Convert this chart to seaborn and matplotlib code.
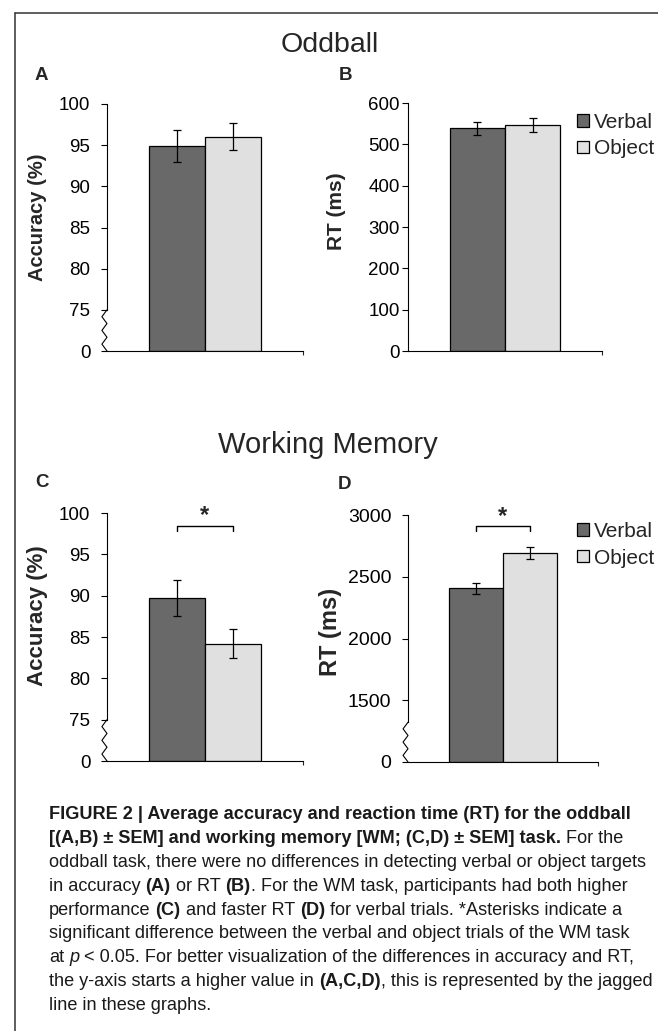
import numpy as np
import pandas as pd
import matplotlib
matplotlib.use("Agg")
import matplotlib.pyplot as plt
from matplotlib import font_manager
from matplotlib.lines import Line2D
import seaborn as sns

# values
conditions = ["Verbal", "Object"]
bar_colors = ["#696969", "#e0e0e0"]

odd_acc = [94.9, 96.05]
odd_acc_sem = [1.95, 1.6]
odd_rt = [539, 547]
odd_rt_sem = [16, 17]

wm_acc = [89.7, 84.2]
wm_acc_sem = [2.2, 1.75]
wm_rt = [2405, 2692]
wm_rt_sem = [47, 51]

acc_ticks = [0, 75, 80, 85, 90, 95, 100]
odd_rt_ticks = [0, 100, 200, 300, 400, 500, 600]
wm_rt_ticks = [0, 1500, 2000, 2500, 3000]

caption_lines = [
    [("FIGURE 2 | Average accuracy and reaction time (RT) for the oddball", "bold")],
    [("[(A,B) \u00b1 SEM] and working memory [WM; (C,D) \u00b1 SEM] task.", "bold"),
     (" For the", "normal")],
    [("oddball task, there were no differences in detecting verbal or object targets", "normal")],
    [("in accuracy ", "normal"), ("(A)", "bold"), (" or RT ", "normal"), ("(B)", "bold"),
     (". For the WM task, participants had both higher", "normal")],
    [("performance ", "normal"), ("(C)", "bold"), (" and faster RT ", "normal"), ("(D)", "bold"),
     (" for verbal trials. *Asterisks indicate a", "normal")],
    [("significant difference between the verbal and object trials of the WM task", "normal")],
    [("at ", "normal"), ("p", "italic"),
     (" < 0.05. For better visualization of the differences in accuracy and RT,", "normal")],
    [("the y-axis starts a higher value in ", "normal"), ("(A,C,D)", "bold"),
     (", this is represented by the jagged", "normal")],
    [("line in these graphs.", "normal")],
]

W, H = 658, 1031
sns.set_theme(style="white")
plt.rcParams["font.family"] = ["Liberation Sans", "DejaVu Sans"]
plt.rcParams["axes.linewidth"] = 0.8

fig = plt.figure(figsize=(W / 100, H / 100), dpi=100)
fig.patch.set_facecolor("white")


def px_axes(left, right, top, bottom):
    return fig.add_axes([left / W, 1 - bottom / H, (right - left) / W, (bottom - top) / H])


def fx(x):
    return x / W


def fy(y):
    return 1 - y / H


def broken(vals, offset):
    # values above the break are shifted down so the axis can jump from 0 to the first tick
    return [v - offset for v in vals]


def draw_panel(ax, vals, sems, ticks, tick_pos, ymax, tick_size, pad, legend,
               break_top=None):
    df = pd.DataFrame({"task": ["t", "t"], "condition": conditions, "value": vals})
    sns.barplot(data=df, x="task", y="value", hue="condition", hue_order=conditions,
                palette=bar_colors, saturation=1, edgecolor="black", linewidth=0.9,
                width=0.57, gap=0, ax=ax, legend=legend)
    centers = [c.patches[0].get_x() + c.patches[0].get_width() / 2 for c in ax.containers]
    ax.errorbar(centers, vals, yerr=sems, fmt="none", ecolor="black",
                elinewidth=0.9, capsize=2.6, capthick=0.9, zorder=5)
    ax.set_xlim(-0.5, 0.5)
    ax.set_ylim(0, ymax)
    ax.set_yticks(tick_pos)
    ax.set_yticklabels([str(t) for t in ticks])
    ax.set_xticks([0.5])
    ax.set_xticklabels([])
    ax.set_xlabel("")
    ax.set_ylabel("")
    ax.tick_params(axis="y", direction="out", length=4.5, width=0.8, pad=pad,
                   labelsize=tick_size, colors="black", left=True)
    ax.tick_params(axis="x", direction="out", length=3, width=0.8, bottom=True)
    for s in ["top", "right"]:
        ax.spines[s].set_visible(False)
    for s in ["left", "bottom"]:
        ax.spines[s].set_color("black")
    ax.set_facecolor("none")
    if break_top is not None:
        ax.spines["left"].set_bounds(break_top, ymax)
        n = 7
        zy = np.linspace(break_top, 0, n)
        zx = [0 if i % 2 == 0 else -0.026 for i in range(n)]
        ax.plot(zx, zy, color="black", lw=0.8, transform=ax.get_yaxis_transform(),
                clip_on=False)
    return centers


def bracket(ax, centers, y, drop, star_y):
    ax.plot([centers[0], centers[0], centers[1], centers[1]], [y - drop, y, y, y - drop],
            color="black", lw=1.0, clip_on=False)
    ax.text(0, star_y, "*", ha="center", va="center", fontsize=17, fontweight="bold",
            clip_on=False)


# panel A: oddball accuracy
axA = px_axes(107, 303, 104, 351)
draw_panel(axA, broken(odd_acc, 70), odd_acc_sem, acc_ticks, [0, 5, 10, 15, 20, 25, 30],
           30, 13.5, 7.5, False, break_top=5)
axA.set_ylabel("Accuracy (%)", fontsize=14.5, fontweight="bold")
axA.yaxis.set_label_coords(-0.305, 0.54)

# panel B: oddball RT
axB = px_axes(408, 602, 103, 351)
draw_panel(axB, odd_rt, odd_rt_sem, odd_rt_ticks, odd_rt_ticks, 600, 13.5, 1.5, True)
axB.set_ylabel("RT (ms)", fontsize=15, fontweight="bold")
axB.yaxis.set_label_coords(-0.32, 0.565)

# panel C: WM accuracy
axC = px_axes(107, 303, 513, 761)
cC = draw_panel(axC, broken(wm_acc, 70), wm_acc_sem, acc_ticks, [0, 5, 10, 15, 20, 25, 30],
                30, 13.5, 7.5, False, break_top=5)
axC.set_ylabel("Accuracy (%)", fontsize=16, fontweight="bold")
axC.yaxis.set_label_coords(-0.30, 0.585)
bracket(axC, cC, 28.4, 0.6, 29.7)

# panel D: WM RT
axD = px_axes(408, 598, 515, 762)
cD = draw_panel(axD, broken(wm_rt, 1000), wm_rt_sem, wm_rt_ticks, [0, 500, 1000, 1500, 2000],
                2000, 14, 7.5, True, break_top=322)
axD.set_ylabel("RT (ms)", fontsize=17, fontweight="bold")
axD.yaxis.set_label_coords(-0.347, 0.525)
bracket(axD, cD, 1913, 40, 1985)

# legends
for ax, top in [(axB, 113), (axD, 522)]:
    handles, labels = ax.get_legend_handles_labels()
    for h in handles:
        h.set_edgecolor("black")
        h.set_linewidth(0.9)
    ax.legend(handles, labels, loc="upper left", bbox_to_anchor=(fx(577), fy(top)),
              bbox_transform=fig.transFigure, frameon=False, fontsize=15,
              handlelength=0.58, handleheight=0.56, handletextpad=0.22,
              labelspacing=0.36, borderpad=0, borderaxespad=0)

# titles and panel letters
fig.text(fx(330), fy(52), "Oddball", ha="center", va="baseline", fontsize=20.5)
fig.text(fx(328), fy(453), "Working Memory", ha="center", va="baseline", fontsize=21)
for letter, x, y in [("A", 35, 80), ("B", 339, 80), ("C", 35, 487), ("D", 338, 489)]:
    fig.text(fx(x), fy(y), letter, ha="left", va="baseline", fontsize=13.5, fontweight="bold")

# frame lines around the figure
fig.add_artist(Line2D([fx(15), fx(15)], [fy(13), 0], transform=fig.transFigure,
                      color="#333333", lw=1.1))
fig.add_artist(Line2D([fx(15), 1], [fy(13), fy(13)], transform=fig.transFigure,
                      color="#333333", lw=1.1))

# caption with mixed weights
names = {f.name for f in font_manager.fontManager.ttflist}
cap_font = "Liberation Sans Narrow" if "Liberation Sans Narrow" in names else "Liberation Sans"
renderer = fig.canvas.get_renderer()


def text_w(s, size, weight="normal", style="normal"):
    t = fig.text(0, 0, s, fontsize=size, family=cap_font, fontweight=weight, fontstyle=style)
    w = t.get_window_extent(renderer).width
    t.remove()
    return w


def line_w(line, size):
    total = 0.0
    for seg, kind in line:
        total += text_w(seg.replace(" ", "\u00a0"), size,
                        "bold" if kind == "bold" else "normal",
                        "italic" if kind == "italic" else "normal")
    return total


cap_size = 13.0
widest = max(line_w(caption_lines[2], cap_size), line_w(caption_lines[7], cap_size))
cap_size = cap_size * 603 / widest
space_w = text_w("a a", cap_size) - text_w("aa", cap_size)

for i, line in enumerate(caption_lines):
    x = 49.0
    y = 819 + i * 23.9
    for seg, kind in line:
        lead = len(seg) - len(seg.lstrip(" "))
        trail = len(seg) - len(seg.rstrip(" "))
        core = seg.strip(" ")
        x += lead * space_w
        weight = "bold" if kind == "bold" else "normal"
        style = "italic" if kind == "italic" else "normal"
        t = fig.text(fx(x), fy(y), core, fontsize=cap_size, family=cap_font,
                     fontweight=weight, fontstyle=style, ha="left", va="baseline",
                     color="#1a1a1a")
        x += t.get_window_extent(renderer).width + trail * space_w

fig.savefig("out.png", dpi=100)
